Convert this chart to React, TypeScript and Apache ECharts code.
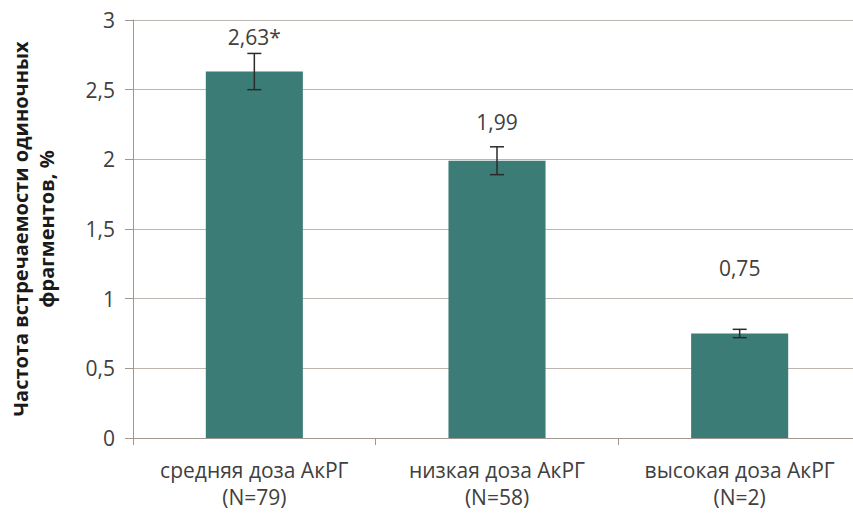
import React, { useEffect, useRef } from "react";
import * as echarts from "echarts";

// Dose groups and mean frequency of single fragments (%)
const categories = ["средняя доза АкРГ\n(N=79)", "низкая доза АкРГ\n(N=58)", "высокая доза АкРГ\n(N=2)"];
const values = [2.63, 1.99, 0.75];
const errors = [0.13, 0.1, 0.03];
const valueLabels = ["2,63*", "1,99", "0,75"];
const labelGaps = [24, 28, 55];
const yTicks = { min: 0, max: 3, interval: 0.5 };

const FONT = "'Open Sans', 'DejaVu Sans', sans-serif";
const TEXT = "#404040";

export default function App() {
  const ref = useRef<HTMLDivElement>(null);

  useEffect(() => {
    if (!ref.current) return;
    const chart = echarts.init(ref.current, undefined, { renderer: "svg" });

    chart.setOption({
      animation: false,
      backgroundColor: "#ffffff",
      grid: {
        left: 133,
        top: 20,
        width: 728,
        bottom: 77,
        containLabel: false,
        outerBoundsMode: "none",
      },
      xAxis: {
        type: "category",
        data: categories,
        axisLine: { lineStyle: { color: "#a09890", width: 1 } },
        axisTick: { show: true, length: 7, lineStyle: { color: "#a09890" } },
        axisLabel: {
          interval: 0,
          color: TEXT,
          fontFamily: FONT,
          fontSize: 21,
          lineHeight: 27,
          margin: 18,
        },
      },
      yAxis: {
        type: "value",
        min: yTicks.min,
        max: yTicks.max,
        interval: yTicks.interval,
        name: "Частота встречаемости одиночных\nфрагментов, %",
        nameLocation: "middle",
        nameGap: 74,
        nameRotate: 90,
        nameTextStyle: { color: "#1a1a1a", fontFamily: FONT, fontSize: 20, fontWeight: "bold", lineHeight: 26 },
        axisLine: { show: true, lineStyle: { color: "#a09890", width: 1 } },
        axisTick: { show: true, length: 8, lineStyle: { color: "#a09890" } },
        axisLabel: {
          color: TEXT,
          fontFamily: FONT,
          fontSize: 21,
          margin: 18,
          formatter: (v: number) => String(v).replace(".", ","),
        },
        splitLine: { show: true, lineStyle: { color: "#bdb6b0", width: 1 } },
      },
      series: [
        {
          type: "bar",
          barWidth: "40%",
          itemStyle: { color: "#3c7c77" },
          data: values.map((v, i) => ({
            value: v,
            label: {
              show: true,
              position: "top",
              distance: labelGaps[i],
              formatter: valueLabels[i],
              color: TEXT,
              fontFamily: FONT,
              fontSize: 21,
            },
          })),
          z: 2,
        },
        {
          type: "custom",
          z: 5,
          data: values.map((v, i) => [i, v - errors[i], v + errors[i]]),
          renderItem: (params: any, api: any) => {
            const x = api.value(0);
            const lo = api.coord([x, api.value(1)]);
            const hi = api.coord([x, api.value(2)]);
            const cap = 7;
            const style = { stroke: "#2a2a2a", lineWidth: 1.5 };
            return {
              type: "group",
              children: [
                { type: "line", shape: { x1: lo[0], y1: lo[1], x2: hi[0], y2: hi[1] }, style },
                { type: "line", shape: { x1: hi[0] - cap, y1: hi[1], x2: hi[0] + cap, y2: hi[1] }, style },
                { type: "line", shape: { x1: lo[0] - cap, y1: lo[1], x2: lo[0] + cap, y2: lo[1] }, style },
              ],
            };
          },
        },
      ],
    });

    return () => chart.dispose();
  }, []);

  return (
    <div
      ref={ref}
      style={{ position: "absolute", left: 0, top: 0, width: 853, height: 515 }}
    />
  );
}
